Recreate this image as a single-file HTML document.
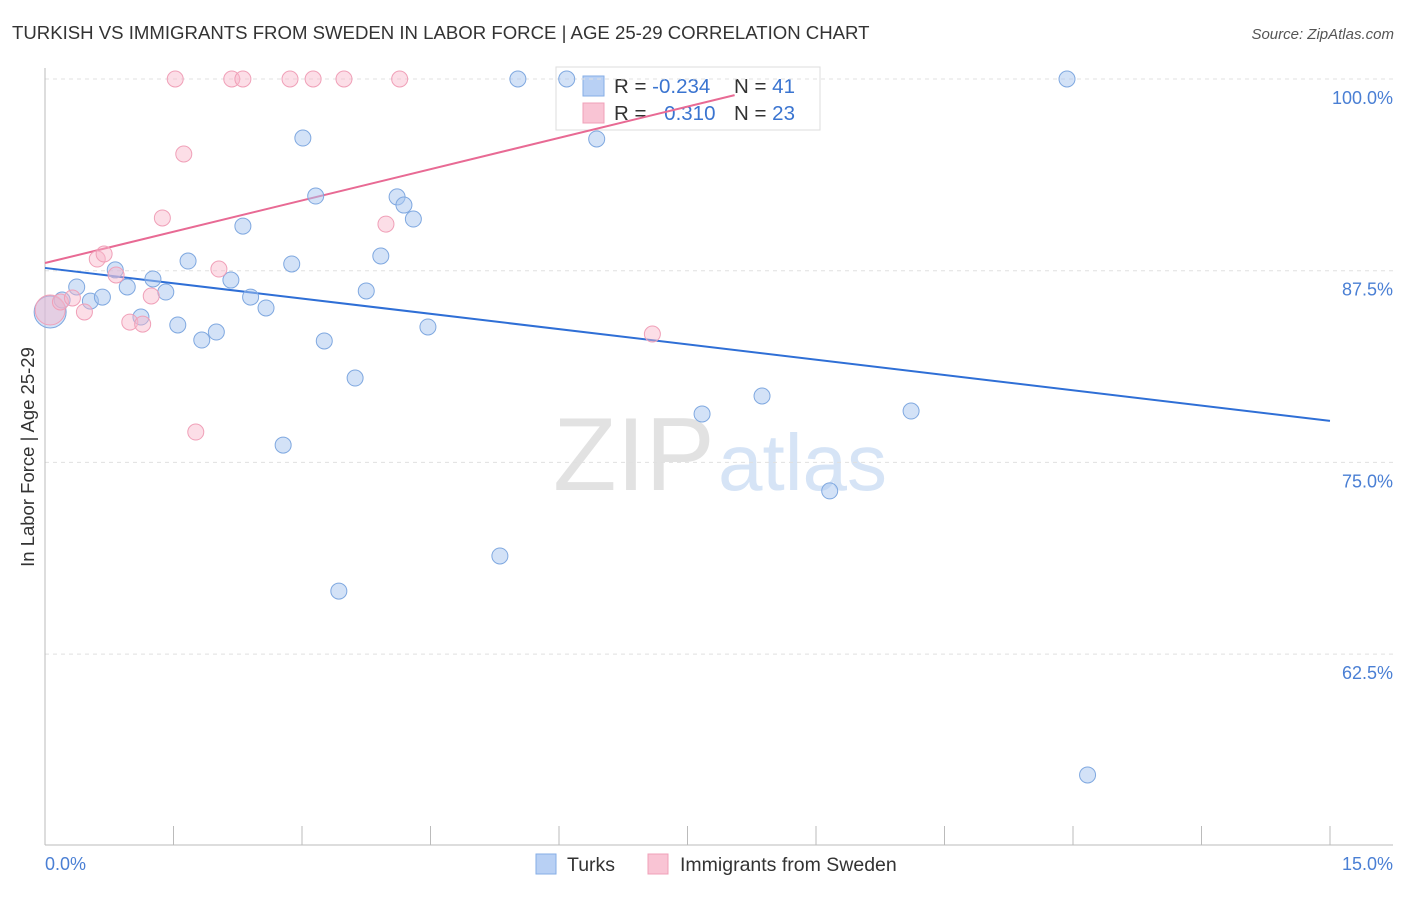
<!DOCTYPE html>
<html><head><meta charset="utf-8"><style>
body{margin:0;background:#fff;font-family:"Liberation Sans",sans-serif}
svg text{font-family:"Liberation Sans",sans-serif}
</style></head><body>
<svg id="chart" width="1406" height="892" xmlns="http://www.w3.org/2000/svg">
<text x="12" y="39" font-size="18.6" fill="#333">TURKISH VS IMMIGRANTS FROM SWEDEN IN LABOR FORCE | AGE 25-29 CORRELATION CHART</text>
<text x="1394" y="39" font-size="15" fill="#555" font-style="italic" text-anchor="end">Source: ZipAtlas.com</text>
<g>
<text x="553" y="490" font-size="104" font-family="Liberation Serif,serif" fill="#e2e2e2">ZIP</text>
<text x="718" y="490" font-size="80" fill="#d6e4f6">atlas</text>
</g>
<g>
<rect x="556" y="67" width="264" height="63" fill="#fff" stroke="#ddd"/>
<rect x="583" y="76" width="21" height="20" fill="#b8d0f4" stroke="#86aee6"/>
<rect x="583" y="103" width="21" height="20" fill="#f9c4d4" stroke="#f0a0b8"/>
<text x="614" y="93" font-size="20.5" fill="#333">R = <tspan fill="#3a74d0">-0.234</tspan></text>
<text x="734" y="93" font-size="20.5" fill="#333">N = <tspan fill="#3a74d0">41</tspan></text>
<text x="614" y="120" font-size="20.5" fill="#333">R = <tspan fill="#3a74d0" dx="12">0.310</tspan></text>
<text x="734" y="120" font-size="20.5" fill="#333">N = <tspan fill="#3a74d0">23</tspan></text>
</g>
<g id="grid"></g><g id="axes"></g><g id="lines"></g><g id="pts"></g>
<text transform="translate(34,457) rotate(-90)" font-size="18.5" fill="#333" text-anchor="middle">In Labor Force | Age 25-29</text>
<text x="45" y="870" font-size="18" fill="#4a7fd4">0.0%</text>
<text x="1393" y="870" font-size="18" fill="#4a7fd4" text-anchor="end">15.0%</text>
<g>
<rect x="536" y="854" width="20" height="20" fill="#b8d0f4" stroke="#86aee6"/>
<text x="567" y="871" font-size="19.5" fill="#333">Turks</text>
<rect x="648" y="854" width="20" height="20" fill="#f9c4d4" stroke="#f0a0b8"/>
<text x="680" y="871" font-size="19.5" fill="#333">Immigrants from Sweden</text>
</g>
</svg>
<script>
const blueX=[0.06,0.20,0.37,0.53,0.67,0.82,0.96,1.12,1.26,1.41,1.55,1.67,1.83,2.00,2.17,2.31,2.40,2.58,2.78,2.88,3.01,3.16,3.26,3.43,3.62,3.75,3.92,4.11,4.19,4.30,4.47,5.31,5.52,6.09,6.44,7.67,8.37,9.16,10.11,11.93,12.17];
const blueY=[84.81,85.59,86.44,85.52,85.78,87.55,86.44,84.48,86.96,86.11,83.96,88.13,82.98,83.50,86.89,90.41,85.78,85.07,76.13,87.94,96.15,92.37,82.92,66.61,80.50,86.18,88.46,92.31,91.78,90.87,83.83,68.90,100,100,96.09,78.16,79.33,73.14,78.35,100,54.62];
const pinkX=[0.06,0.18,0.32,0.46,0.61,0.69,0.83,0.99,1.14,1.24,1.37,1.52,1.62,1.76,2.03,2.18,2.31,2.86,3.13,3.49,3.98,4.14,7.09];
const pinkY=[84.94,85.46,85.72,84.81,88.26,88.59,87.22,84.15,84.02,85.85,90.94,100,95.11,76.98,87.61,100,100,100,100,100,90.54,100,83.37];
const yTicks=[100,87.5,75,62.5];
const blueTrend=[87.68,-0.665]; // intercept, slope
const pinkTrend=[88.0,1.36,8.05]; // intercept, slope, end x
const NS="http://www.w3.org/2000/svg";
const sx=v=>45+v/1.5*128.5;
const sy=v=>79+(100-v)/12.5*191.7;
function mk(p,t,a){const e=document.createElementNS(NS,t);for(const k in a)e.setAttribute(k,a[k]);document.getElementById(p).appendChild(e);return e;}
yTicks.forEach(t=>{
 const l=mk('grid','line',{x1:45,x2:1393,y1:sy(t),y2:sy(t),stroke:'#e0e0e0','stroke-dasharray':'4,4'});
 
 
 const tx=mk('grid','text',{x:1393,y:sy(t)+25,'font-size':18,fill:'#4a7fd4','text-anchor':'end'});
 tx.textContent=t.toFixed(1)+'%';
 
 
});
let ax=mk('axes','line',{x1:45,x2:45,y1:68,y2:845,stroke:'#bbb'});


ax=mk('axes','line',{x1:45,x2:1393,y1:845,y2:845,stroke:'#bbb'});


for(let i=0;i<=10;i++){const t=mk('axes','line',{x1:sx(i*1.5),x2:sx(i*1.5),y1:826,y2:845,stroke:'#bbb'});
 
 }
let bl=mk('lines','line',{x1:sx(0),y1:sy(blueTrend[0]),x2:sx(15),y2:sy(blueTrend[0]+blueTrend[1]*15),stroke:'#2f6fd6','stroke-width':2});


let pl=mk('lines','line',{x1:sx(0),y1:sy(pinkTrend[0]),x2:sx(pinkTrend[2]),y2:sy(pinkTrend[0]+pinkTrend[1]*pinkTrend[2]),stroke:'#e86a94','stroke-width':2});


blueX.forEach((x,i)=>{const c=mk('pts','circle',{cx:sx(x),cy:sy(blueY[i]),r:i==0?16:8,fill:'rgba(168,198,240,0.5)',stroke:'#7fa8e0','stroke-width':1});
 
 });
pinkX.forEach((x,i)=>{const c=mk('pts','circle',{cx:sx(x),cy:sy(pinkY[i]),r:i==0?15:8,fill:'rgba(248,182,202,0.45)',stroke:'#f0a0b8','stroke-width':1});
 
 });
</script>
</body></html>
